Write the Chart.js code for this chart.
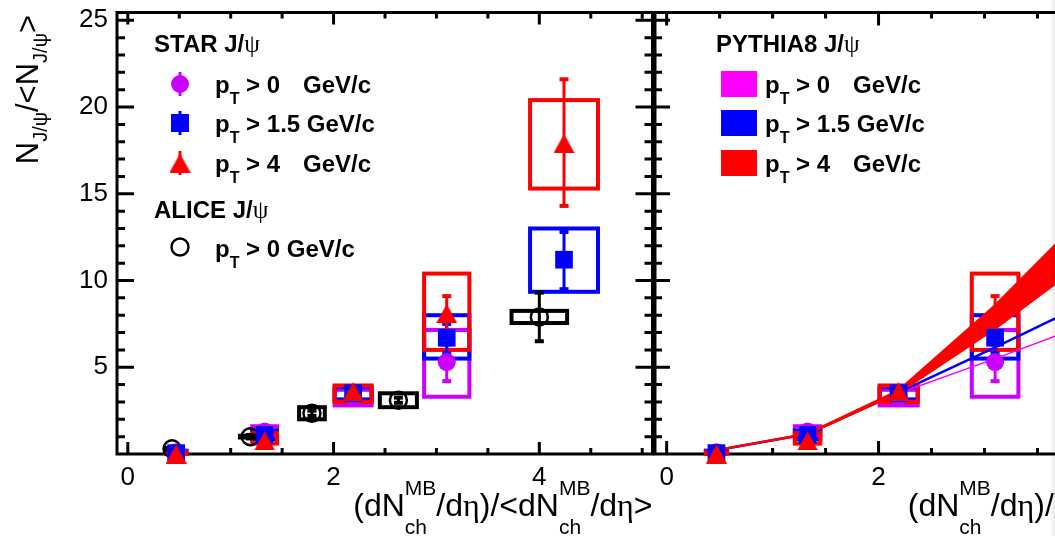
<!DOCTYPE html>
<html>
<head>
<meta charset="utf-8">
<script src="https://cdn.jsdelivr.net/npm/chart.js@4.4.1/dist/chart.umd.min.js"></script>
<style>
  html, body { margin: 0; padding: 0; background: #fff; overflow: hidden; width: 1055px; height: 536px; position: relative; }
  canvas { position: absolute; top: 0; }
  #right { left: 640px; }
  #left { left: 0; }
  #edge { position: absolute; right: 0; top: 0; width: 5px; height: 536px;
          background: linear-gradient(to right, rgba(0,0,0,0), rgba(0,0,0,0.09)); }
</style>
</head>
<body>
<canvas id="right" width="600" height="536"></canvas>
<canvas id="left" width="665" height="536"></canvas>
<div id="edge"></div>
<script>
// ---- data ----
const xStar = [0.47, 1.33, 2.19, 3.10, 4.24];

// STAR pT > 0 (no point at the last bin)
const star0Y      = [0.10, 1.30, 3.30, 5.30];
const star0StatLo = [0.00, 1.15, 3.15, 4.20];
const star0StatHi = [0.20, 1.45, 3.45, 6.30];
const star0SysLo  = [0.00, 1.05, 2.80, 3.30];
const star0SysHi  = [0.20, 1.60, 3.70, 7.15];

// STAR pT > 1.5
const star15Y      = [0.05, 1.10, 3.50, 6.70, 11.20];
const star15StatLo = [0.00, 0.95, 3.35, 5.80, 9.50];
const star15StatHi = [0.15, 1.25, 3.65, 7.50, 12.80];
const star15SysLo  = [0.00, 0.85, 3.15, 5.50, 9.35];
const star15SysHi  = [0.15, 1.35, 3.85, 8.00, 13.00];

// STAR pT > 4
const star4Y      = [0.00, 0.75, 3.60, 8.10, 17.90];
const star4StatLo = [0.00, 0.55, 3.40, 7.10, 14.30];
const star4StatHi = [0.10, 0.95, 3.80, 9.10, 21.60];
const star4SysLo  = [0.00, 0.60, 3.00, 6.00, 15.30];
const star4SysHi  = [0.10, 1.20, 3.95, 10.40, 20.40];

const starSysHalf = [0.10, 0.12, 0.18, 0.22, 0.33];

// ALICE pT > 0
const xAlice       = [0.43, 1.19, 1.79, 2.63, 4.00];
const aliceY       = [0.30, 1.00, 2.35, 3.10, 7.90];
const aliceStatLo  = [0.20, 0.90, 2.20, 2.95, 6.50];
const aliceStatHi  = [0.40, 1.10, 2.50, 3.25, 9.30];
const aliceSysLo   = [0.25, 0.95, 2.00, 2.70, 7.55];
const aliceSysHi   = [0.35, 1.05, 2.70, 3.50, 8.25];
const aliceSysHalf = [0.05, 0.10, 0.125, 0.18, 0.27];

// PYTHIA8 curves
const xPythia = [0.47, 1.33, 2.19, 3.10, 4.24];
const pyth0   = [0.22, 1.15, 3.50, 5.50, 8.10];
const pyth15  = [0.22, 1.15, 3.55, 6.15, 9.50];
const pyth4Lo = [0.20, 1.12, 3.50, 7.20, 12.40];
const pyth4Hi = [0.24, 1.20, 3.70, 8.60, 15.60];

const xTickLabels = [0, 2, 4];
const yTickLabels = [5, 10, 15, 20, 25];

// ---- style ----
const FONT = "'Liberation Sans', Arial, Helvetica, sans-serif";
const SERIF = "'Liberation Serif', 'DejaVu Serif', serif";
const VIOLET = '#cc00ff', BLUE = '#0000ff', RED = '#ff0000', PINK = '#ff00ff';

const pts = (xs, ys) => ys.map((y, i) => ({ x: xs[i], y }));

// triangle marker centred on its bounding box
const tri = document.createElement('canvas');
tri.width = 21; tri.height = 19;
(() => {
  const c = tri.getContext('2d');
  c.fillStyle = RED;
  c.beginPath(); c.moveTo(10.5, 0); c.lineTo(21, 19); c.lineTo(0, 19); c.closePath(); c.fill();
})();

const seriesStar0 = { x: xStar, y: star0Y, lo: star0StatLo, hi: star0StatHi, sLo: star0SysLo, sHi: star0SysHi, half: starSysHalf, color: VIOLET };
const seriesStar15 = { x: xStar, y: star15Y, lo: star15StatLo, hi: star15StatHi, sLo: star15SysLo, sHi: star15SysHi, half: starSysHalf, color: BLUE };
const seriesStar4 = { x: xStar, y: star4Y, lo: star4StatLo, hi: star4StatHi, sLo: star4SysLo, sHi: star4SysHi, half: starSysHalf, color: RED };
const seriesAlice = { x: xAlice, y: aliceY, lo: aliceStatLo, hi: aliceStatHi, sLo: aliceSysLo, sHi: aliceSysHi, half: aliceSysHalf, color: '#000' };

// ---- text helpers ----
function setFont(ctx, p) {
  ctx.font = (p.bold ? 'bold ' : '') + p.size + 'px ' + (p.serif ? SERIF : FONT);
}
function partWidth(ctx, p) {
  setFont(ctx, p);
  if (p.sup !== undefined) return Math.max(ctx.measureText(p.sup).width, ctx.measureText(p.sub).width);
  return ctx.measureText(p.t).width;
}
function drawRich(ctx, x, y, parts, align) {
  const w = parts.reduce((a, p) => a + partWidth(ctx, p), 0);
  let cx = align === 'right' ? x - w : x;
  ctx.textAlign = 'left'; ctx.textBaseline = 'alphabetic'; ctx.fillStyle = '#000';
  for (const p of parts) {
    setFont(ctx, p);
    if (p.sup !== undefined) {
      ctx.fillText(p.sup, cx, y + p.supDy);
      ctx.fillText(p.sub, cx, y + p.subDy);
    } else {
      ctx.fillText(p.t, cx, y + (p.dy || 0));
    }
    cx += partWidth(ctx, p);
  }
  return cx;
}

const M = 32, S = 21;
const stack = { sup: 'MB', sub: 'ch', size: S, supDy: -21, subDy: 18 };
const xTitle = [
  { t: '(dN', size: M }, stack, { t: '/d', size: M }, { t: 'η', size: M, serif: true },
  { t: ')/<dN', size: M }, stack, { t: '/d', size: M }, { t: 'η', size: M, serif: true },
  { t: '>', size: M }
];
const ySub = { t: 'J/ψ', size: 20, dy: 9 };
const yTitle = [{ t: 'N', size: 31 }, ySub, { t: '/<N', size: 31 }, ySub, { t: '>', size: 31 }];

const LB = 24;
function ptRow(ctx, x, y, tail, gevX) {
  const end = drawRich(ctx, x, y, [
    { t: 'p', size: LB, bold: true },
    { t: 'T', size: 16, bold: true, dy: 11 },
    { t: ' > ' + tail, size: LB, bold: true }
  ]);
  if (gevX) { setFont(ctx, { size: LB, bold: true }); ctx.fillText('GeV/c', gevX, y); }
  return end;
}
function header(ctx, x, y, name) {
  drawRich(ctx, x, y, [{ t: name + ' J/', size: LB, bold: true }, { t: 'ψ', size: 25, serif: true }]);
}

// ---- plugins ----
const frameTicks = {
  id: 'frameTicks',
  beforeDatasetsDraw(chart, args, o) {
    const { ctx, chartArea: a, scales: { x, y } } = chart;
    ctx.save();
    ctx.strokeStyle = '#000'; ctx.lineWidth = 3;
    ctx.strokeRect(a.left, a.top, a.right - a.left, a.bottom - a.top);
    ctx.beginPath();
    for (let k = 0; k <= 10; k++) {
      const v = k * 0.5;
      const px = x.getPixelForValue(v);
      const L = k % 4 === 0 ? o.xMajor : o.xMinor;
      ctx.moveTo(px, a.bottom); ctx.lineTo(px, a.bottom - L);
      ctx.moveTo(px, a.top); ctx.lineTo(px, a.top + L);
    }
    for (let v = 1; v <= 25; v++) {
      const py = y.getPixelForValue(v);
      const L = v % 5 === 0 ? o.yMajor : o.yMinor;
      ctx.moveTo(a.left, py); ctx.lineTo(a.left + L, py);
      ctx.moveTo(a.right, py); ctx.lineTo(a.right - L, py);
    }
    ctx.stroke();
    ctx.restore();
  }
};

const errBars = {
  id: 'errBars',
  beforeDatasetsDraw(chart, args, o) {
    const { ctx, scales: { x, y } } = chart;
    ctx.save();
    for (const s of o.series) {
      ctx.strokeStyle = s.color; ctx.lineWidth = 4;
      s.y.forEach((_, i) => {
        const l = x.getPixelForValue(s.x[i] - s.half[i]), r = x.getPixelForValue(s.x[i] + s.half[i]);
        const t = y.getPixelForValue(s.sHi[i]), b = y.getPixelForValue(s.sLo[i]);
        ctx.strokeRect(l, t, r - l, b - t);
      });
    }
    for (const s of o.series) {
      ctx.strokeStyle = s.color; ctx.fillStyle = s.color; ctx.lineWidth = 3;
      s.y.forEach((_, i) => {
        const px = x.getPixelForValue(s.x[i]);
        const t = y.getPixelForValue(s.hi[i]), b = y.getPixelForValue(s.lo[i]);
        ctx.beginPath(); ctx.moveTo(px, t); ctx.lineTo(px, b); ctx.stroke();
        ctx.fillRect(px - 4.5, t - 2, 9, 4);
        ctx.fillRect(px - 4.5, b - 2, 9, 4);
      });
    }
    ctx.restore();
  }
};

function legendMarker(ctx, kind, x, y, color) {
  ctx.save();
  ctx.fillStyle = color; ctx.strokeStyle = color;
  if (kind !== 'open') {
    ctx.lineWidth = 3;
    ctx.beginPath(); ctx.moveTo(x, y - 12); ctx.lineTo(x, y + 12); ctx.stroke();
  }
  if (kind === 'circle') { ctx.beginPath(); ctx.arc(x, y, 9, 0, Math.PI * 2); ctx.fill(); }
  if (kind === 'rect') ctx.fillRect(x - 9, y - 9, 18, 18);
  if (kind === 'tri') ctx.drawImage(tri, x - 10.5, y - 9.5);
  if (kind === 'open') { ctx.lineWidth = 2.5; ctx.beginPath(); ctx.arc(x, y, 8.5, 0, Math.PI * 2); ctx.stroke(); }
  ctx.restore();
}

const texts = {
  id: 'texts',
  afterDraw(chart, args, o) {
    const { ctx, chartArea: a } = chart;
    ctx.save();
    drawRich(ctx, a.right, 516, xTitle, 'right');
    if (o.side === 'left') {
      ctx.save();
      ctx.translate(38, 15); ctx.rotate(-Math.PI / 2);
      drawRich(ctx, 0, 0, yTitle, 'right');
      ctx.restore();
      header(ctx, 154, 52, 'STAR');
      legendMarker(ctx, 'circle', 180, 84, VIOLET);
      legendMarker(ctx, 'rect', 180, 123, BLUE);
      legendMarker(ctx, 'tri', 180, 163, RED);
      ptRow(ctx, 215, 93, '0', 303);
      ptRow(ctx, 215, 132, '1.5 GeV/c');
      ptRow(ctx, 215, 172, '4', 303);
      header(ctx, 154, 218, 'ALICE');
      legendMarker(ctx, 'open', 180, 247, '#000');
      ptRow(ctx, 215, 257, '0 GeV/c');
    } else {
      const ox = -640;
      header(ctx, 716 + ox, 52, 'PYTHIA8');
      [[PINK, 93, '0', true], [BLUE, 132, '1.5 GeV/c', false], [RED, 172, '4', true]].forEach(([c, yb, tail, gev]) => {
        ctx.fillStyle = c;
        ctx.fillRect(721 + ox, yb - 22, 36, 26);
        ptRow(ctx, 765 + ox, yb, tail, gev ? 853 + ox : null);
      });
    }
    ctx.restore();
  }
};

function markerSets() {
  return [
    { label: 'STAR pT>4', data: pts(xStar, star4Y), pointStyle: tri, pointRadius: 10, clip: false },
    { label: 'STAR pT>1.5', data: pts(xStar, star15Y), pointStyle: 'rect', pointRadius: 12.5,
      backgroundColor: BLUE, borderWidth: 0, clip: false },
    { label: 'STAR pT>0', data: pts(xStar, star0Y), pointStyle: 'circle', pointRadius: 9,
      backgroundColor: VIOLET, borderWidth: 0, clip: false }
  ];
}

function scaleOpts(xmin, xmax, showY, yWidth) {
  const tickFont = { family: FONT, size: 26 };
  return {
    x: {
      type: 'linear', min: xmin, max: xmax,
      grid: { display: false, drawTicks: false }, border: { display: false },
      afterBuildTicks: s => { s.ticks = xTickLabels.map(v => ({ value: v })); },
      afterFit: s => { s.height = 82; s.paddingLeft = 0; s.paddingRight = 0; },
      ticks: { font: tickFont, color: '#000', padding: 8, autoSkip: false, maxRotation: 0 }
    },
    y: {
      type: 'linear', min: 0, max: 25.45, display: showY,
      grid: { display: false, drawTicks: false }, border: { display: false },
      afterBuildTicks: s => { s.ticks = yTickLabels.map(v => ({ value: v })); },
      afterFit: s => { s.width = yWidth; s.paddingTop = 0; s.paddingBottom = 0; },
      ticks: { font: tickFont, color: '#000', padding: 9 }
    }
  };
}

const common = {
  responsive: false, animation: false, devicePixelRatio: 1, events: []
};

new Chart(document.getElementById('left'), {
  type: 'scatter',
  data: {
    datasets: [
      ...markerSets(),
      { label: 'ALICE pT>0', data: pts(xAlice, aliceY), pointStyle: 'circle', pointRadius: 8.5,
        backgroundColor: 'rgba(0,0,0,0)', borderColor: '#000', borderWidth: 2.5, clip: false }
    ]
  },
  options: {
    ...common,
    layout: { padding: { left: 0, right: 10, top: 8, bottom: 0 } },
    scales: scaleOpts(-0.105, 5.1, true, 117),
    plugins: {
      legend: { display: false }, tooltip: { enabled: false },
      frameTicks: { xMajor: 12, xMinor: 6, yMajor: 17, yMinor: 8 },
      errBars: { series: [seriesStar0, seriesStar15, seriesStar4, seriesAlice] },
      texts: { side: 'left' }
    }
  },
  plugins: [frameTicks, errBars, texts]
});

new Chart(document.getElementById('right'), {
  type: 'scatter',
  data: {
    datasets: [
      ...markerSets(),
      { type: 'line', label: 'PYTHIA8 pT>4 low', data: pts(xPythia, pyth4Lo), borderColor: RED,
        borderWidth: 1.5, pointRadius: 0, fill: false },
      { type: 'line', label: 'PYTHIA8 pT>4 high', data: pts(xPythia, pyth4Hi), borderColor: RED,
        borderWidth: 1.5, pointRadius: 0, backgroundColor: RED, fill: '-1' },
      { type: 'line', label: 'PYTHIA8 pT>1.5', data: pts(xPythia, pyth15), borderColor: BLUE,
        borderWidth: 2.5, pointRadius: 0, fill: false },
      { type: 'line', label: 'PYTHIA8 pT>0', data: pts(xPythia, pyth0), borderColor: PINK,
        borderWidth: 1.5, pointRadius: 0, fill: false }
    ]
  },
  options: {
    ...common,
    layout: { padding: { left: 0, right: 33, top: 8, bottom: 0 } },
    scales: scaleOpts(-0.11, 5.1, false, 15),
    plugins: {
      legend: { display: false }, tooltip: { enabled: false },
      frameTicks: { xMajor: 13, xMinor: 6, yMajor: 15, yMinor: 7 },
      errBars: { series: [seriesStar0, seriesStar15, seriesStar4] },
      texts: { side: 'right' }
    }
  },
  plugins: [frameTicks, errBars, texts]
});
</script>
</body>
</html>
